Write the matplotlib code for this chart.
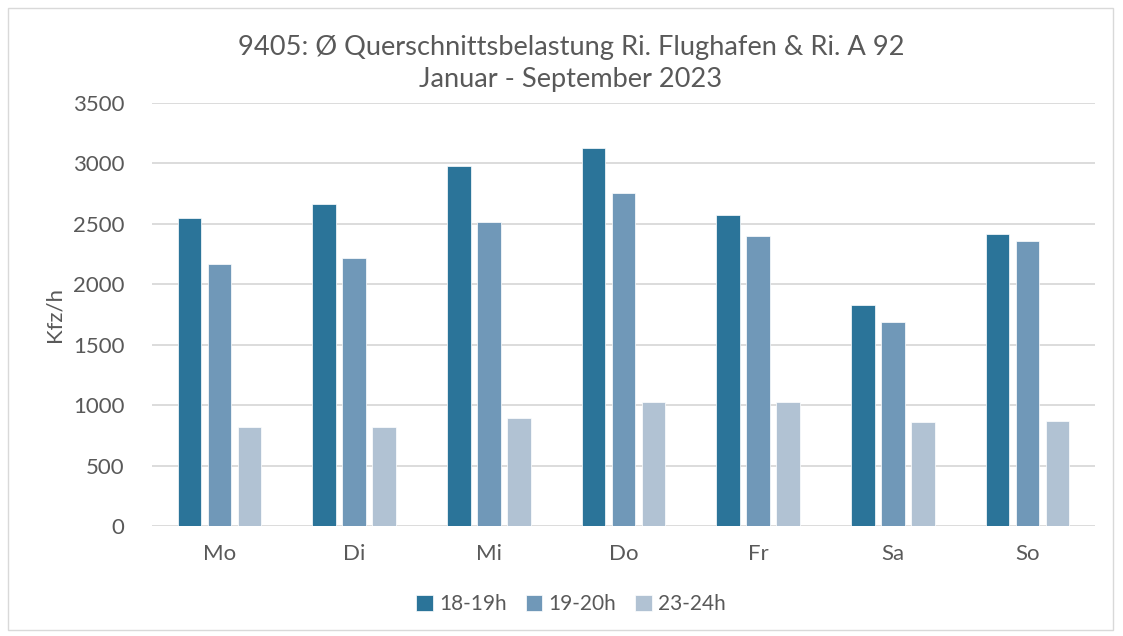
import matplotlib
matplotlib.use("Agg")
import matplotlib.pyplot as plt
import numpy as np
from matplotlib.patches import Rectangle

categories = ["Mo", "Di", "Mi", "Do", "Fr", "Sa", "So"]
series_names = ["18-19h", "19-20h", "23-24h"]
s1819 = [2545, 2668, 2982, 3125, 2570, 1832, 2417]
s1920 = [2170, 2217, 2512, 2757, 2402, 1692, 2362]
s2324 = [822, 822, 893, 1027, 1022, 862, 872]
colors = ["#2b7499", "#7098b8", "#b1c2d3"]

plt.rcParams['font.family'] = ['Lato', 'DejaVu Sans']

W, H = 1123, 636
fig = plt.figure(figsize=(W/100, H/100), dpi=100)
ax = fig.add_axes([152/W, 1-526/H, (1095-152)/W, (526-103)/H])

x = np.arange(len(categories))
bw = 0.175
pitch = 0.223
for i, (vals, c, n) in enumerate(zip([s1819, s1920, s2324], colors, series_names)):
    ax.bar(x + (i-1)*pitch, vals, width=bw, color=c, label=n,
           edgecolor="white", linewidth=0.5, zorder=3)

ax.set_xlim(-0.5, len(categories)-0.5)
ax.set_ylim(0, 3500)
ax.set_yticks(np.arange(0, 3501, 500))
ax.set_xticks(x)
ax.set_xticklabels(categories)
ax.grid(axis='y', color='#d9d9d9', linewidth=1.3, zorder=0)
for s in ax.spines.values():
    s.set_visible(False)
ax.tick_params(axis='both', length=0, colors='#595959', labelsize=16)
ax.tick_params(axis='x', pad=13)
ax.tick_params(axis='y', pad=20)
ax.set_ylabel("Kfz/h", color='#595959', fontsize=16, labelpad=6)

fig.text(571/W, 1-47/H, "9405: Ø Querschnittsbelastung Ri. Flughafen & Ri. A 92",
         ha='center', va='center', fontsize=19.6, color='#595959')
fig.text(571/W, 1-80/H, "Januar - September 2023",
         ha='center', va='center', fontsize=19.6, color='#595959')

leg = fig.legend(loc='center', bbox_to_anchor=(571/W, 1-604/H), ncol=3, frameon=False,
                 fontsize=15, handlelength=0.8, handleheight=0.8, columnspacing=0.9,
                 handletextpad=0.3)
for t in leg.get_texts():
    t.set_color('#595959')

fig.patches.append(Rectangle((8/W, 6/H), (1113-8)/W, (628-6)/H, transform=fig.transFigure,
                             fill=False, edgecolor='#d9d9d9', linewidth=1))

fig.savefig("out.png", dpi=100, facecolor='white')
